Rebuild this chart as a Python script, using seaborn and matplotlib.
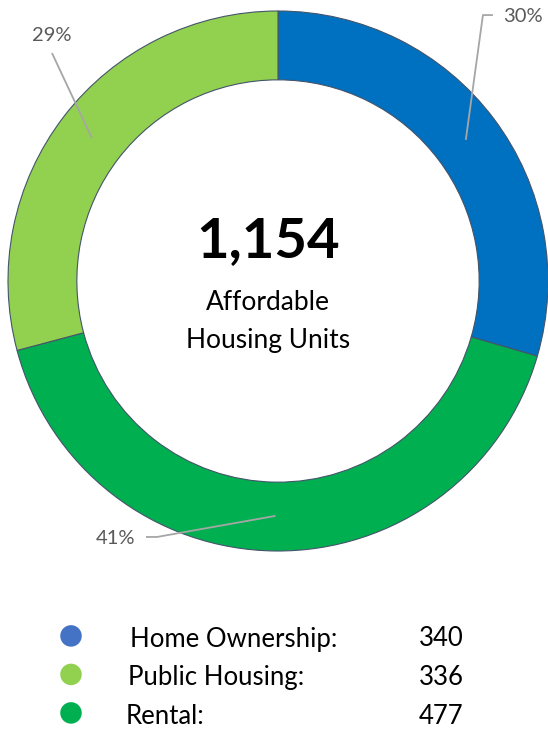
import numpy as np
import seaborn as sns
import matplotlib.pyplot as plt

# Data (clockwise from 12 o'clock, as drawn)
categories = ['Home Ownership', 'Rental', 'Public Housing']
units = [340, 477, 336]
pct_labels = ['30%', '41%', '29%']
colors = ['#0070C0', '#00B050', '#92D050']
total_label = '1,154'

# Legend rows
legend_names = ['Home Ownership:', 'Public Housing:', 'Rental:']
legend_values = [340, 336, 477]
legend_colors = ['#4472C4', '#92D050', '#00B050']

sns.set_theme(style='white')
plt.rcParams['font.family'] = ['Lato', 'DejaVu Sans']

fig = plt.figure(figsize=(5.48, 7.32), dpi=100)

# donut: 1 data unit = 270 px, center at (278, 281) px
ax = fig.add_axes([0, 1 - 580 / 732, 1, 580 / 732])
wedges, _ = ax.pie(units, colors=colors, startangle=90, counterclock=False,
                   radius=1.0,
                   wedgeprops=dict(width=0.255, edgecolor='#44546A', linewidth=0.8))
ax.set_xlim(-278 / 270, 270 / 270)
ax.set_ylim(-299 / 270, 281 / 270)
ax.set_aspect('equal')
ax.axis('off')

# label positions (text) and leader elbows, in data units
text_pos = [(0.833, 0.981), (-0.600, -0.952), (-0.837, 0.911)]
text_ha = ['left', 'center', 'center']
elbows = [[(0.759, 0.985), (0.796, 0.985)],
          [(-0.448, -0.948), (-0.489, -0.948)],
          [(-0.837, 0.844)]]

for w, lab, tp, ha, el in zip(wedges, pct_labels, text_pos, text_ha, elbows):
    ang = np.deg2rad((w.theta1 + w.theta2) / 2)
    ax0, ay0 = 0.87 * np.cos(ang), 0.87 * np.sin(ang)
    xs = [ax0] + [p[0] for p in el]
    ys = [ay0] + [p[1] for p in el]
    ax.plot(xs, ys, color='#A6A6A6', lw=1.3, solid_capstyle='butt')
    ax.text(tp[0], tp[1], lab, ha=ha, va='center', fontsize=14.5, color='#595959')

cx = -0.037
ax.text(cx, 0.148, total_label, ha='center', va='center', fontsize=40.5,
        fontweight='bold', color='black')
ax.text(cx, -0.078, 'Affordable', ha='center', va='center', fontsize=19, color='black')
ax.text(cx, -0.219, 'Housing Units', ha='center', va='center', fontsize=19, color='black')

# legend block
lax = fig.add_axes([0, 0, 1, 132 / 732])
rows = np.arange(len(legend_names))
sns.scatterplot(x=[71] * len(rows), y=rows - 0.08, hue=legend_names, palette=legend_colors,
                s=240, edgecolor='none', legend=False, ax=lax)
name_x = [130, 128, 126]
for r, name, val, nx in zip(rows, legend_names, legend_values, name_x):
    lax.text(nx, r, name, ha='left', va='center', fontsize=18.5, color='black')
    lax.text(441, r, str(val), ha='center', va='center', fontsize=18.5, color='black')
lax.set_xlim(0, 548)
# row r sits at 639 + 38.5 r px; axes spans px 600..732
lax.set_ylim((732 - 639) / 38.5, (600 - 639) / 38.5)
lax.axis('off')

fig.savefig('out.png', dpi=100)
